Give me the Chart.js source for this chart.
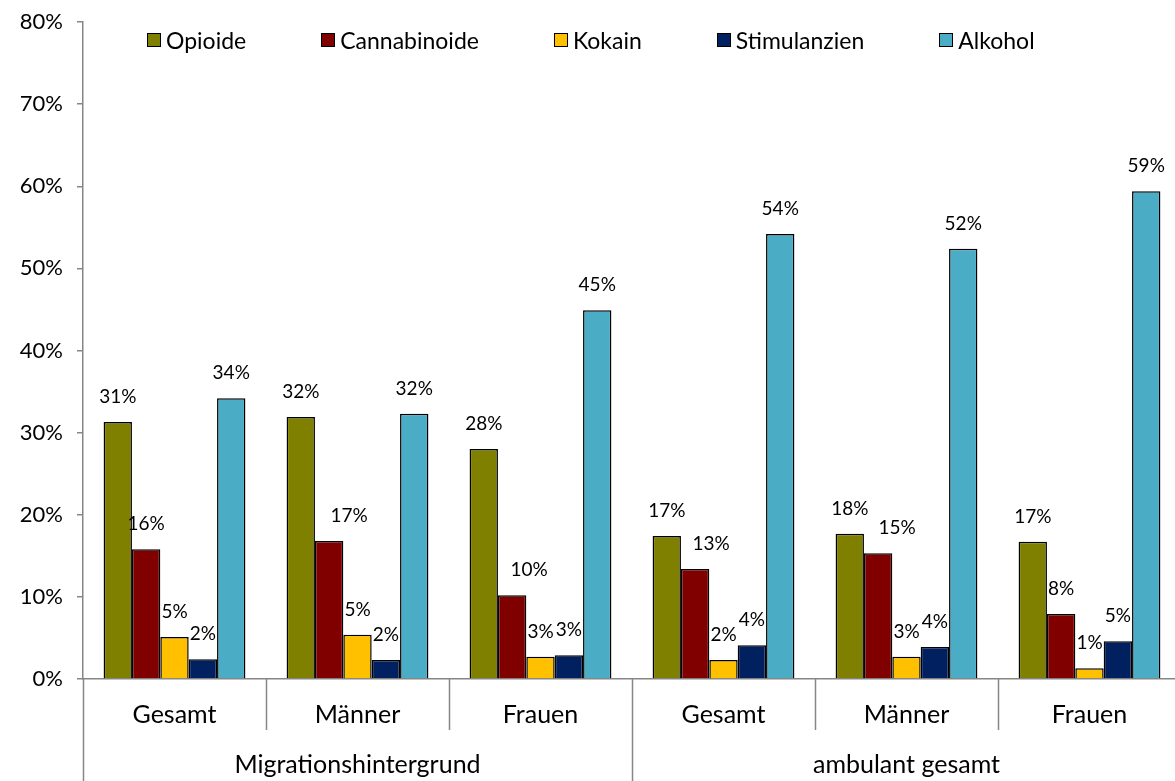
<!DOCTYPE html>
<html>
<head>
<meta charset="utf-8">
<script src="https://cdn.jsdelivr.net/npm/chart.js@4/dist/chart.umd.min.js"></script>
<style>
    html, body { margin:0; padding:0; background:#fff; overflow:hidden; }
    #wrap { position:relative; width:1175px; height:781px; overflow:hidden; }
    #legend { position:absolute; left:147px; top:26px; display:flex; gap:75px;
              font-family:Lato, 'Open Sans', sans-serif; font-size:23px; color:#000; }
    .lg-item { display:flex; align-items:center; }
    .lg-box { width:12px; height:12px; border:1.5px solid #000; margin-right:5px; }
</style>
</head>
<body>
<div id="wrap">
    <canvas id="chart" width="1181" height="781"></canvas>
    <div id="legend"></div>
</div>
<script>
// ── Data ──
const categories = ['Gesamt', 'Männer', 'Frauen', 'Gesamt', 'Männer', 'Frauen'];
const groups     = ['Migrationshintergrund', 'ambulant gesamt'];
const groupSpans = [3, 3];
const yTicks     = [0, 10, 20, 30, 40, 50, 60, 70, 80];

const opioide      = [31.3, 31.9, 28.0, 17.4, 17.7, 16.7];
const cannabinoide = [15.8, 16.8, 10.2, 13.4, 15.3, 7.9];
const kokain       = [5.1, 5.4, 2.7, 2.3, 2.7, 1.3];
const stimulanzien = [2.4, 2.3, 2.9, 4.1, 3.9, 4.6];
const alkohol      = [34.2, 32.3, 44.9, 54.2, 52.4, 59.4];

const seriesNames  = ['Opioide', 'Cannabinoide', 'Kokain', 'Stimulanzien', 'Alkohol'];
const seriesData   = [opioide, cannabinoide, kokain, stimulanzien, alkohol];
const seriesColors = ['#808000', '#800000', '#FFC000', '#002060', '#4BACC6'];

// some Cannabinoide labels were nudged right in the original (px)
const cannLabelNudge = [0, 20, 17, 16, 19, 0];

const FONT = "Lato, 'Open Sans', sans-serif";
const AXIS_GREY = '#868686';

// ── HTML legend ──
const legendEl = document.getElementById('legend');
seriesNames.forEach((name, i) => {
    const item = document.createElement('div'); item.className = 'lg-item';
    item.innerHTML = `<span class="lg-box" style="background:${seriesColors[i]}"></span><span>${name}</span>`;
    legendEl.appendChild(item);
});

// ── Value labels above bars ──
const valueLabels = {
    id: 'valueLabels',
    afterDatasetsDraw(chart) {
        const ctx = chart.ctx;
        ctx.save();
        ctx.font = `19px ${FONT}`;
        ctx.fillStyle = '#000';
        ctx.textAlign = 'center';
        ctx.textBaseline = 'middle';
        chart.data.datasets.forEach((ds, di) => {
            chart.getDatasetMeta(di).data.forEach((bar, i) => {
                const dx = di === 1 ? cannLabelNudge[i] : 0;
                ctx.fillText(Math.round(ds.data[i]) + '%', bar.x + dx, bar.y - 25);
            });
        });
        ctx.restore();
    }
};

// ── Category separators and group labels ──
const groupAxis = {
    id: 'groupAxis',
    afterDraw(chart) {
        const x = chart.scales.x, ctx = chart.ctx;
        const half = (x.getPixelForValue(1) - x.getPixelForValue(0)) / 2;
        const top = x.top, bottom = chart.height;
        const starts = [0]; groupSpans.forEach(s => starts.push(starts[starts.length-1] + s));
        ctx.save();
        ctx.strokeStyle = AXIS_GREY; ctx.lineWidth = 1.5;
        for (let i = 0; i <= categories.length; i++) {
            const px = Math.round(x.getPixelForValue(i) - half) + 0.5;
            const outer = starts.includes(i);
            ctx.beginPath();
            ctx.moveTo(px, top);
            ctx.lineTo(px, outer ? bottom : top + 51);
            ctx.stroke();
        }
        ctx.font = `25px ${FONT}`;
        ctx.fillStyle = '#000';
        ctx.textAlign = 'center'; ctx.textBaseline = 'middle';
        groups.forEach((g, gi) => {
            const a = x.getPixelForValue(starts[gi]) - half;
            const b = x.getPixelForValue(starts[gi+1] - 1) + half;
            ctx.fillText(g, (a + b) / 2, top + 86);
        });
        ctx.restore();
    }
};

new Chart(document.getElementById('chart').getContext('2d'), {
    type: 'bar',
    data: {
        labels: categories,
        datasets: seriesNames.map((name, i) => ({
            label: name, data: seriesData[i],
            backgroundColor: seriesColors[i],
            borderColor: '#000', borderWidth: 1.5,
            categoryPercentage: 0.775, barPercentage: 1
        }))
    },
    options: {
        responsive: false, animation: false,
        layout: { padding: { top: 22, right: 0, left: 0, bottom: 0 } },
        plugins: { legend: { display: false }, tooltip: { enabled: false } },
        scales: {
            y: {
                min: 0, max: 80,
                afterBuildTicks: (s) => { s.ticks = yTicks.map(v => ({ value: v })); },
                afterFit: (s) => { s.width = 83; s.paddingTop = 0; s.paddingBottom = 0; },
                ticks: { callback: (v) => v + '%', font: { size: 22, family: FONT }, color: '#000', padding: 14 },
                grid: { drawOnChartArea: false, tickLength: 6, color: AXIS_GREY, lineWidth: 1.5 },
                border: { color: AXIS_GREY, width: 1.5 }
            },
            x: {
                afterFit: (s) => { s.height = 102; s.paddingLeft = 0; s.paddingRight = 0; },
                ticks: { font: { size: 25, family: FONT }, color: '#000', padding: 13, maxRotation: 0 },
                grid: { display: false },
                border: { color: AXIS_GREY, width: 1.5 }
            }
        }
    },
    plugins: [valueLabels, groupAxis]
});
</script>
</body>
</html>
